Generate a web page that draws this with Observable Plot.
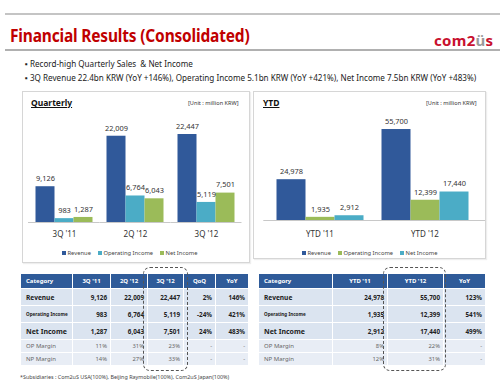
<!DOCTYPE html>
<html>
<head>
<meta charset="utf-8">
<script src="https://cdn.jsdelivr.net/npm/d3@7"></script>
<script src="https://cdn.jsdelivr.net/npm/@observablehq/plot@0.6"></script>
<style>
  html, body { margin:0; padding:0; background:#fff; }
  #page { position:relative; width:500px; height:383px; overflow:hidden; font-family:"Noto Sans", sans-serif; color:#222; }
  .abs { position:absolute; }
  .hline { position:absolute; left:5px; width:495px; background:#b4b4b4; }
  .title { left:10px; top:23px; font-size:17.5px; font-weight:bold; color:#c00000; white-space:nowrap; letter-spacing:-0.2px; transform:scaleX(0.885); transform-origin:left center; }
  .logo { left:434px; top:30px; font-size:15px; font-weight:bold; color:#c8102e; white-space:nowrap; letter-spacing:0.3px; }
  .bullet { left:25px; font-size:8.1px; color:#222; white-space:pre; }
  .panel { position:absolute; border:1px solid #d6d6d6; box-shadow:1px 1px 1px #eee; background:#fff; }
  .ptitle { font-size:8.5px; font-weight:bold; text-decoration:underline; color:#111; white-space:nowrap; }
  .unit { font-size:5.6px; color:#333; white-space:nowrap; }
  .legend { display:flex; gap:7px; font-size:5.8px; color:#444; white-space:nowrap; align-items:center; }
  .legend span.sw { display:inline-block; width:4px; height:4px; margin-right:1.5px; vertical-align:middle; }
  table.t { position:absolute; border-collapse:collapse; table-layout:fixed; }
  table.t td { border:1px solid #fff; padding:0 3px; overflow:hidden; white-space:nowrap; }
  table.t tr.h td { background:#2f5b99; color:#fff; font-weight:bold; font-size:6px; text-align:center; }
  table.t tr.h td:first-child { text-align:left; padding-left:5px; }
  table.t tr.b td { background:#dbe4f0; font-weight:bold; font-size:6.3px; text-align:right; color:#222; }
  table.t tr.m td { background:#e8edf5; font-size:5.8px; text-align:right; color:#666; }
  table.t td.c { text-align:left !important; padding-left:5px; }
  .dash { position:absolute; border:1px dashed #555; border-radius:7px; }
  .foot { left:20px; top:373px; font-size:5.4px; color:#444; white-space:nowrap; }
</style>
</head>
<body>
<div id="page"></div>
<script>
// ---------- data ----------
const seriesNames = ["Revenue", "Operating Income", "Net Income"];
const quarters = ["3Q '11", "2Q '12", "3Q '12"];
const qRevenue = [9126, 22009, 22447];
const qOpIncome = [983, 6764, 5119];
const qNetIncome = [1287, 6043, 7501];
const qOpMargin = ["11%", "31%", "23%"];
const qNpMargin = ["14%", "27%", "33%"];
const qQoQ = ["2%", "-24%", "24%", "-", "-"];
const qYoY = ["146%", "421%", "483%", "-", "-"];

const ytdPeriods = ["YTD '11", "YTD '12"];
const ytdRevenue = [24978, 55700];
const ytdOpIncome = [1935, 12399];
const ytdNetIncome = [2912, 17440];
const ytdOpMargin = ["8%", "22%"];
const ytdNpMargin = ["12%", "31%"];
const ytdYoY = ["123%", "541%", "499%", "-", "-"];

const rowLabels = ["Revenue", "Operating Income", "Net Income", "OP Margin", "NP Margin"];

const titleText = "Financial Results (Consolidated)";
const bullets = [
  "Record-high Quarterly Sales  & Net Income",
  "3Q Revenue 22.4bn KRW (YoY +146%), Operating Income 5.1bn KRW (YoY +421%), Net Income 7.5bn KRW (YoY +483%)"
];
const footnote = "*Subsidiaries : Com2uS USA(100%), Beijing Raymobile(100%), Com2uS Japan(100%)";
const unitText = "[Unit : million KRW]";

const cBlue = "#30599a", cCyan = "#4bacc6", cGreen = "#9bbb59";
const qColors = [cBlue, cCyan, cGreen];
const ytdColors = [cBlue, cGreen, cCyan];

const fmt = d3.format(",");
const page = document.getElementById("page");
function add(html) { page.insertAdjacentHTML("beforeend", html); }

// ---------- header ----------
add(`<div class="hline" style="top:13px;height:2px;background:#c4c4c4"></div>`);
add(`<div class="abs title">${titleText}</div>`);
add(`<div class="abs logo">com2<span style="color:#9a9a9a">ü</span>s</div>`);
add(`<div class="hline" style="top:49px;height:2px;background:#b0b0b0"></div>`);
bullets.forEach((b, i) => add(`<div class="abs bullet" style="top:${58 + i * 14}px">▪ ${b}</div>`));

// ---------- panels ----------
add(`<div class="panel" style="left:22px;top:91px;width:226px;height:170px"></div>`);
add(`<div class="panel" style="left:253px;top:91px;width:231px;height:166px"></div>`);
add(`<div class="abs ptitle" style="left:31px;top:97px">Quarterly</div>`);
add(`<div class="abs unit" style="left:188px;top:99px">${unitText}</div>`);
add(`<div class="abs ptitle" style="left:263px;top:97px">YTD</div>`);
add(`<div class="abs unit" style="left:426px;top:99px">${unitText}</div>`);

// ---------- charts ----------
function chart(periods, vals, colors, opts) {
  const data = periods.flatMap((p, i) => seriesNames.map((s, j) => ({ period: p, series: s, value: vals[j][i] })));
  const first = periods[0], last = periods[periods.length - 1];
  const svg = Plot.plot({
    width: opts.width, height: 145,
    marginLeft: opts.ml, marginRight: opts.mr, marginTop: opts.mt, marginBottom: opts.mb,
    style: { background: "transparent", fontFamily: "Noto Sans", fontSize: "8px", color: "#333" },
    fx: { domain: periods, paddingInner: opts.pi, paddingOuter: opts.po, label: null, axis: "bottom", tickSize: 0, tickPadding: opts.tp },
    x: { domain: seriesNames, padding: 0, axis: null },
    y: { domain: [0, opts.ymax], axis: null },
    color: { domain: seriesNames, range: colors },
    marks: [
      Plot.barY(data, { fx: "period", x: "series", y: "value", fill: "series" }),
      Plot.ruleY([{ period: first, y: 0 }], { fx: "period", y: "y", stroke: "#c8c8c8", strokeWidth: 1, insetLeft: -opts.outL, insetRight: -opts.gap }),
      Plot.ruleY(periods.slice(1, -1).map(p => ({ period: p, y: 0 })), { fx: "period", y: "y", stroke: "#c8c8c8", strokeWidth: 1, insetLeft: -opts.gap, insetRight: -opts.gap }),
      Plot.ruleY([{ period: last, y: 0 }], { fx: "period", y: "y", stroke: "#c8c8c8", strokeWidth: 1, insetLeft: -opts.gap, insetRight: -opts.outR }),
      Plot.text(data, { fx: "period", x: "series", y: "value", text: d => fmt(d.value), dy: -8, fontSize: 7.4, fill: "#333" })
    ]
  });
  svg.style.position = "absolute";
  svg.style.left = opts.left + "px";
  svg.style.top = opts.top + "px";
  page.appendChild(svg);
}
chart(quarters, [qRevenue, qOpIncome, qNetIncome], qColors,
  { width: 228, left: 20, top: 100, ml: 7.5, mr: 5, mt: 24, mb: 23, pi: 0.18, po: 0.09, tp: 8.5, ymax: 25000, outL: 7, outR: 6.5, gap: 6.5 });
chart(ytdPeriods, [ytdRevenue, ytdOpIncome, ytdNetIncome], ytdColors,
  { width: 232, left: 253, top: 100, ml: 13.5, mr: 7.5, mt: 22, mb: 25, pi: 0.175, po: 0.0875, tp: 10.5, ymax: 60000, outL: 12.7, outR: 17, gap: 9.2 });

// ---------- legends ----------
function legend(colors, left, top) {
  const items = seriesNames.map((s, i) => `<div><span class="sw" style="background:${colors[i]}"></span>${s}</div>`).join("");
  add(`<div class="abs legend" style="left:${left}px;top:${top}px">${items}</div>`);
}
legend(qColors, 62, 249);
legend(ytdColors, 302, 249);

// ---------- tables ----------
function table(left, widths, header, rows) {
  const col = widths.map(w => `<col style="width:${w}px">`).join("");
  const heights = [15, 17, 17, 17, 13, 13];
  let html = `<table class="t" style="left:${left}px;top:273px;width:${d3.sum(widths)}px">${col}`;
  html += `<tr class="h" style="height:${heights[0]}px">${header.map(h => `<td>${h}</td>`).join("")}</tr>`;
  rows.forEach((r, i) => {
    const cls = i < 3 ? "b" : "m";
    const lab = rowLabels[i];
    const labStyle = i === 1 ? "font-size:4.6px" : (i === 2 ? "font-size:7px" : (i === 0 ? "font-size:6.6px" : "font-size:6px"));
    html += `<tr class="${cls}" style="height:${heights[i + 1]}px"><td class="c" style="${labStyle}">${lab}</td>${r.map(v => `<td>${v}</td>`).join("")}</tr>`;
  });
  html += `</table>`;
  add(html);
}
const qRows = [
  [...qRevenue.map(fmt), qQoQ[0], qYoY[0]],
  [...qOpIncome.map(fmt), qQoQ[1], qYoY[1]],
  [...qNetIncome.map(fmt), qQoQ[2], qYoY[2]],
  [...qOpMargin, qQoQ[3], qYoY[3]],
  [...qNpMargin, qQoQ[4], qYoY[4]]
];
table(20, [52, 38, 37, 36, 32, 33], ["Category", ...quarters, "QoQ", "YoY"], qRows);
const yRows = [
  [...ytdRevenue.map(fmt), ytdYoY[0]],
  [...ytdOpIncome.map(fmt), ytdYoY[1]],
  [...ytdNetIncome.map(fmt), ytdYoY[2]],
  [...ytdOpMargin, ytdYoY[3]],
  [...ytdNpMargin, ytdYoY[4]]
];
table(258, [74, 55, 56, 42], ["Category", ...ytdPeriods, "YoY"], yRows);

add(`<div class="dash" style="left:143px;top:267px;width:43px;height:102px"></div>`);
add(`<div class="dash" style="left:383px;top:267px;width:61px;height:102px"></div>`);
add(`<div class="abs foot">${footnote}</div>`);
</script>
</body>
</html>
